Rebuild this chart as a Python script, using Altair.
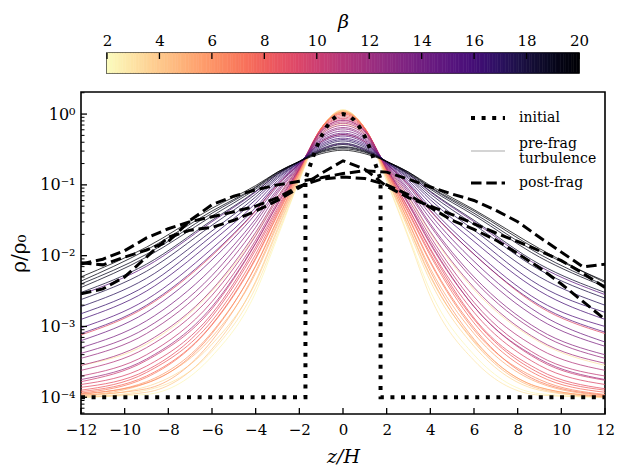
import altair as alt
import numpy as np
import pandas as pd

FONT = "DejaVu Serif"

# ---------------- data ----------------
# pre-frag turbulence profiles: log10(rho/rho0) at these z/H positions
PROFILE_Z = [-12, -9, -6, -4, -3, -2, -1, 0, 1, 2, 3, 4, 6, 9, 12]
PROFILE_BETA = [2.3, 2.9, 3.1, 3.4, 4.0, 4.6, 5.2, 5.8, 6.4, 7.0, 7.6, 8.2, 8.8, 9.0,
                9.4, 10.0, 10.6, 11.2, 11.8, 12.0, 12.4, 13.0, 13.6, 14.2, 14.8, 15.0,
                15.4, 16.0, 16.6, 17.2, 17.8, 18.4, 19.0, 19.2, 19.6, 20.0]
PROFILE_LOGRHO = [
    [-4.00, -3.96, -3.42, -2.52, -1.74, -0.94, -0.22, 0.06, -0.21, -0.93, -1.72, -2.50, -3.40, -3.95, -4.00],
    [-4.00, -3.90, -3.35, -2.45, -1.70, -0.93, -0.21, 0.06, -0.22, -0.95, -1.75, -2.58, -3.48, -3.97, -4.00],
    [-3.55, -3.25, -2.50, -1.70, -1.18, -0.74, -0.28, -0.14, -0.28, -0.74, -1.18, -1.68, -2.48, -3.22, -3.55],
    [-3.99, -3.85, -3.25, -2.38, -1.65, -0.91, -0.21, 0.05, -0.20, -0.90, -1.64, -2.36, -3.28, -3.90, -4.00],
    [-4.00, -3.93, -3.32, -2.36, -1.62, -0.90, -0.21, 0.05, -0.21, -0.90, -1.60, -2.30, -3.20, -3.86, -3.99],
    [-3.98, -3.80, -3.15, -2.25, -1.57, -0.88, -0.20, 0.04, -0.20, -0.88, -1.58, -2.28, -3.22, -3.88, -4.00],
    [-3.97, -3.88, -3.20, -2.22, -1.54, -0.86, -0.20, 0.03, -0.20, -0.86, -1.52, -2.18, -3.10, -3.80, -3.98],
    [-3.96, -3.78, -3.08, -2.15, -1.50, -0.84, -0.20, 0.03, -0.20, -0.85, -1.53, -2.22, -3.18, -3.86, -3.99],
    [-3.95, -3.80, -3.10, -2.14, -1.48, -0.83, -0.20, 0.02, -0.20, -0.83, -1.47, -2.10, -3.05, -3.75, -3.96],
    [-3.94, -3.72, -2.98, -2.05, -1.43, -0.81, -0.20, 0.01, -0.20, -0.81, -1.45, -2.08, -3.02, -3.78, -3.97],
    [-3.92, -3.70, -2.97, -2.03, -1.41, -0.80, -0.20, 0.00, -0.21, -0.80, -1.40, -2.00, -2.95, -3.70, -3.93],
    [-3.90, -3.65, -2.92, -1.98, -1.38, -0.79, -0.21, -0.02, -0.21, -0.79, -1.38, -1.97, -2.90, -3.66, -3.90],
    [-3.86, -3.62, -2.86, -1.92, -1.35, -0.78, -0.22, -0.04, -0.22, -0.78, -1.34, -1.92, -2.88, -3.62, -3.88],
    [-3.12, -2.72, -2.00, -1.37, -1.00, -0.70, -0.39, -0.29, -0.39, -0.70, -1.00, -1.37, -1.98, -2.72, -3.10],
    [-3.82, -3.56, -2.82, -1.88, -1.32, -0.78, -0.22, -0.06, -0.23, -0.78, -1.33, -1.90, -2.80, -3.55, -3.82],
    [-3.78, -3.48, -2.75, -1.83, -1.28, -0.77, -0.24, -0.08, -0.24, -0.77, -1.28, -1.84, -2.72, -3.48, -3.76],
    [-3.70, -3.40, -2.65, -1.78, -1.24, -0.76, -0.25, -0.11, -0.25, -0.76, -1.25, -1.78, -2.66, -3.42, -3.70],
    [-3.62, -3.30, -2.56, -1.72, -1.20, -0.75, -0.27, -0.13, -0.27, -0.75, -1.21, -1.73, -2.58, -3.32, -3.62],
    [-3.55, -3.22, -2.48, -1.67, -1.17, -0.74, -0.29, -0.16, -0.29, -0.74, -1.16, -1.66, -2.45, -3.20, -3.52],
    [-3.75, -3.46, -2.72, -1.82, -1.27, -0.77, -0.24, -0.09, -0.24, -0.77, -1.27, -1.82, -2.72, -3.46, -3.75],
    [-3.45, -3.10, -2.36, -1.60, -1.12, -0.73, -0.31, -0.19, -0.31, -0.73, -1.12, -1.58, -2.35, -3.10, -3.45],
    [-3.38, -3.02, -2.28, -1.53, -1.09, -0.72, -0.33, -0.21, -0.33, -0.72, -1.09, -1.55, -2.30, -3.05, -3.40],
    [-3.30, -2.92, -2.18, -1.48, -1.06, -0.71, -0.35, -0.24, -0.35, -0.71, -1.06, -1.48, -2.16, -2.90, -3.28],
    [-3.20, -2.80, -2.06, -1.41, -1.02, -0.70, -0.37, -0.27, -0.37, -0.70, -1.02, -1.42, -2.08, -2.82, -3.22],
    [-3.10, -2.70, -1.98, -1.36, -0.99, -0.70, -0.39, -0.29, -0.39, -0.70, -0.99, -1.36, -1.98, -2.70, -3.08],
    [-2.55, -2.15, -1.52, -1.10, -0.85, -0.67, -0.50, -0.42, -0.50, -0.67, -0.85, -1.10, -1.52, -2.15, -2.55],
    [-3.02, -2.62, -1.90, -1.32, -0.97, -0.69, -0.41, -0.31, -0.41, -0.69, -0.97, -1.32, -1.92, -2.64, -3.00],
    [-2.90, -2.50, -1.80, -1.26, -0.94, -0.68, -0.43, -0.34, -0.43, -0.68, -0.94, -1.26, -1.80, -2.50, -2.90],
    [-2.82, -2.42, -1.72, -1.21, -0.91, -0.68, -0.45, -0.36, -0.45, -0.68, -0.91, -1.21, -1.72, -2.42, -2.80],
    [-2.72, -2.32, -1.65, -1.17, -0.89, -0.68, -0.47, -0.38, -0.47, -0.68, -0.89, -1.17, -1.64, -2.30, -2.70],
    [-2.62, -2.22, -1.57, -1.13, -0.87, -0.67, -0.49, -0.41, -0.49, -0.67, -0.87, -1.13, -1.56, -2.20, -2.60],
    [-2.52, -2.12, -1.50, -1.09, -0.85, -0.67, -0.51, -0.43, -0.51, -0.67, -0.85, -1.09, -1.50, -2.12, -2.52],
    [-2.45, -2.02, -1.44, -1.06, -0.84, -0.67, -0.52, -0.46, -0.52, -0.67, -0.84, -1.06, -1.43, -2.02, -2.44],
    [-2.40, -1.98, -1.40, -1.04, -0.83, -0.67, -0.53, -0.47, -0.53, -0.67, -0.83, -1.04, -1.40, -1.98, -2.42],
    [-2.36, -1.92, -1.37, -1.03, -0.82, -0.67, -0.54, -0.49, -0.54, -0.67, -0.82, -1.03, -1.37, -1.93, -2.36],
    [-2.30, -1.88, -1.33, -1.01, -0.82, -0.67, -0.56, -0.51, -0.56, -0.67, -0.82, -1.01, -1.35, -1.90, -2.38],
]

# initial profile (dotted)
INITIAL_Z = [-12, -1.72, -1.72, -1.5, -1.25, -1.0, -0.75, -0.5, -0.25, 0.0,
             0.25, 0.5, 0.75, 1.0, 1.25, 1.5, 1.72, 1.72, 12]
INITIAL_RHO = [1e-4, 1e-4, 0.12, 0.19, 0.32, 0.48, 0.66, 0.83, 0.96, 1.0,
               0.96, 0.83, 0.66, 0.48, 0.32, 0.19, 0.12, 1e-4, 1e-4]

# post-frag profiles (dashed): log10(rho/rho0) at z/H = -12..12
POST_Z = list(range(-12, 13))
POST_A = [-2.10, -2.13, -2.02, -1.92, -1.80, -1.50, -1.28, -1.16, -1.07, -1.00, -0.95, -0.90, -0.84,
          -0.80, -0.82, -0.92, -1.03, -1.13, -1.22, -1.36, -1.52, -1.74, -1.95, -2.16, -2.12]
POST_B = [-2.54, -2.47, -2.30, -2.02, -1.74, -1.64, -1.60, -1.50, -1.37, -1.22, -1.04, -0.84, -0.66,
          -0.78, -1.02, -1.18, -1.30, -1.42, -1.55, -1.68, -1.80, -1.93, -2.07, -2.25, -2.45]
POST_C = [-2.12, -2.05, -1.93, -1.75, -1.62, -1.52, -1.45, -1.38, -1.30, -1.18, -1.02, -0.92, -0.89,
          -0.91, -1.00, -1.14, -1.32, -1.50, -1.63, -1.78, -1.97, -2.17, -2.40, -2.65, -2.90]

CB_TICKS = [2, 4, 6, 8, 10, 12, 14, 16, 18, 20]
X_TICKS = [-12, -10, -8, -6, -4, -2, 0, 2, 4, 6, 8, 10, 12]
Y_MAJOR = [1e-4, 1e-3, 1e-2, 1e-1, 1.0]

# ---------------- tables ----------------
order = np.argsort(PROFILE_BETA, kind="stable")
pre_rows = []
for rank, k in enumerate(order):
    for z, v in zip(PROFILE_Z, PROFILE_LOGRHO[k]):
        pre_rows.append({"id": f"p{rank:02d}", "beta": PROFILE_BETA[k], "z": z, "rho": 10 ** v})
pre_df = pd.DataFrame(pre_rows)

init_df = pd.DataFrame({"z": INITIAL_Z, "rho": INITIAL_RHO, "i": range(len(INITIAL_Z))})

post_rows = []
for name, vals in (("A", POST_A), ("B", POST_B), ("C", POST_C)):
    for z, v in zip(POST_Z, vals):
        post_rows.append({"id": name, "z": z, "rho": 10 ** v})
post_df = pd.DataFrame(post_rows)

y_minor = [m * 10.0 ** e for e in range(-5, 1) for m in range(2, 10)]
y_minor = [v for v in y_minor if 5.8e-5 <= v <= 2.05]

cb_steps = np.arange(2.0, 20.0, 0.1)
cb_df = pd.DataFrame({"b0": cb_steps, "b1": cb_steps + 0.1, "b": cb_steps + 0.05})

# ---------------- scales / axes ----------------
W, H = 524, 322
CBW, CBH = 472, 20
beta_scale = alt.Scale(domain=[2, 20], scheme=alt.SchemeParams(name="magma", extent=[1, 0]))
xscale = alt.Scale(domain=[-12, 12], nice=False, zero=False)
yscale = alt.Scale(type="log", domain=[5.8e-5, 2.05], nice=False)
cbscale = alt.Scale(domain=[2, 20], nice=False, zero=False)

y_label_expr = ("datum.value >= 0.5 ? '10⁰' : datum.value >= 0.05 ? '10⁻¹' : "
                "datum.value >= 0.005 ? '10⁻²' : datum.value >= 0.0005 ? '10⁻³' : '10⁻⁴'")

cb_axis = alt.Axis(orient="top", values=CB_TICKS, title="β", format="d",
                   labelFontSize=15, labelPadding=5, labelFlush=False, labelOverlap=False,
                   titleFontSize=19, titleFontStyle="italic", titlePadding=2)
x_axis = alt.Axis(values=X_TICKS, format="d", title="z/H", labelFontSize=15, labelPadding=8,
                  labelFlush=False, labelOverlap=False, titleFontSize=19,
                  titleFontStyle="italic", titlePadding=10)
y_axis = alt.Axis(values=Y_MAJOR, labelExpr=y_label_expr, title="ρ/ρ₀", labelFontSize=16,
                  labelPadding=6, labelFlush=False, labelOverlap=False, titleFontSize=20,
                  titlePadding=12, minExtent=40, maxExtent=40)

X = lambda: alt.X("z:Q", scale=xscale, axis=x_axis)
Y = lambda: alt.Y("rho:Q", scale=yscale, axis=y_axis)

# ---------------- colorbar ----------------
cb_rect = alt.Chart(cb_df).mark_rect(strokeWidth=0.6).encode(
    x=alt.X("b0:Q", scale=cbscale, axis=cb_axis),
    x2="b1:Q",
    color=alt.Color("b:Q", scale=beta_scale, legend=None),
    stroke=alt.Color("b:Q", scale=beta_scale, legend=None),
)
cb_ticks = alt.Chart(pd.DataFrame({"b0": CB_TICKS})).mark_rule(color="black", strokeWidth=1.3).encode(
    x=alt.X("b0:Q", scale=cbscale, axis=cb_axis), y=alt.value(0), y2=alt.value(6)
)
colorbar = alt.layer(cb_rect, cb_ticks).properties(width=CBW, height=CBH)

# ---------------- main plot ----------------
pre = alt.Chart(pre_df).mark_line(strokeWidth=1.0, opacity=0.75, interpolate="monotone", clip=True).encode(
    x=X(), y=Y(),
    color=alt.Color("beta:Q", scale=beta_scale, legend=None),
    detail="id:N",
)

initial = alt.Chart(init_df).mark_line(color="black", strokeWidth=4, strokeDash=[4, 6.6], clip=True).encode(
    x=X(), y=Y(), order="i:Q"
)

post = alt.Chart(post_df).mark_line(color="black", strokeWidth=3, strokeDash=[10.5, 4.8], clip=True).encode(
    x=X(), y=Y(), detail="id:N"
)

xt = alt.Chart(pd.DataFrame({"z": X_TICKS})).mark_rule(color="black", strokeWidth=1.3).encode(
    x=X(), y=alt.value(H), y2=alt.value(H - 6)
)
ytM = alt.Chart(pd.DataFrame({"rho": Y_MAJOR})).mark_rule(color="black", strokeWidth=1.3).encode(
    y=Y(), x=alt.value(0), x2=alt.value(6)
)
ytm = alt.Chart(pd.DataFrame({"rho": y_minor})).mark_rule(color="black", strokeWidth=1.0).encode(
    y=Y(), x=alt.value(0), x2=alt.value(3.5)
)

one = pd.DataFrame({"a": [0]})
LX0, LX1, LTX = 390, 424, 438
leg_init = alt.Chart(one).mark_rule(color="black", strokeWidth=4, strokeDash=[4, 6.6]).encode(
    x=alt.value(LX0), x2=alt.value(LX1), y=alt.value(26))
leg_pre = alt.Chart(one).mark_rule(color="#aaaaaa", strokeWidth=1.2).encode(
    x=alt.value(LX0), x2=alt.value(LX1), y=alt.value(59))
leg_post = alt.Chart(one).mark_rule(color="black", strokeWidth=3, strokeDash=[10.5, 4.8]).encode(
    x=alt.value(LX0), x2=alt.value(LX1), y=alt.value(91))
LEG_TEXT = ["initial", "pre-frag", "turbulence", "post-frag"]
LEG_Y = [26, 52, 67, 91]
leg_texts = [
    alt.Chart(one).mark_text(align="left", baseline="middle", font=FONT, fontSize=14, color="black").encode(
        x=alt.value(LTX), y=alt.value(yy), text=alt.value(t))
    for t, yy in zip(LEG_TEXT, LEG_Y)
]

main = alt.layer(pre, initial, post, xt, ytM, ytm, leg_init, leg_pre, leg_post, *leg_texts).properties(
    width=W, height=H)

chart = alt.vconcat(colorbar, main, spacing=19, center=True, bounds="flush").properties(
    padding={"left": 0, "top": 3, "right": 0, "bottom": 0}
).configure_view(
    stroke="black", strokeWidth=1.6
).configure_axis(
    labelFont=FONT, titleFont=FONT, labelColor="black", titleColor="black",
    titleFontWeight="normal", grid=False, ticks=False, domain=False
)

chart.save("out.html", embed_options={"renderer": "svg", "actions": False})
